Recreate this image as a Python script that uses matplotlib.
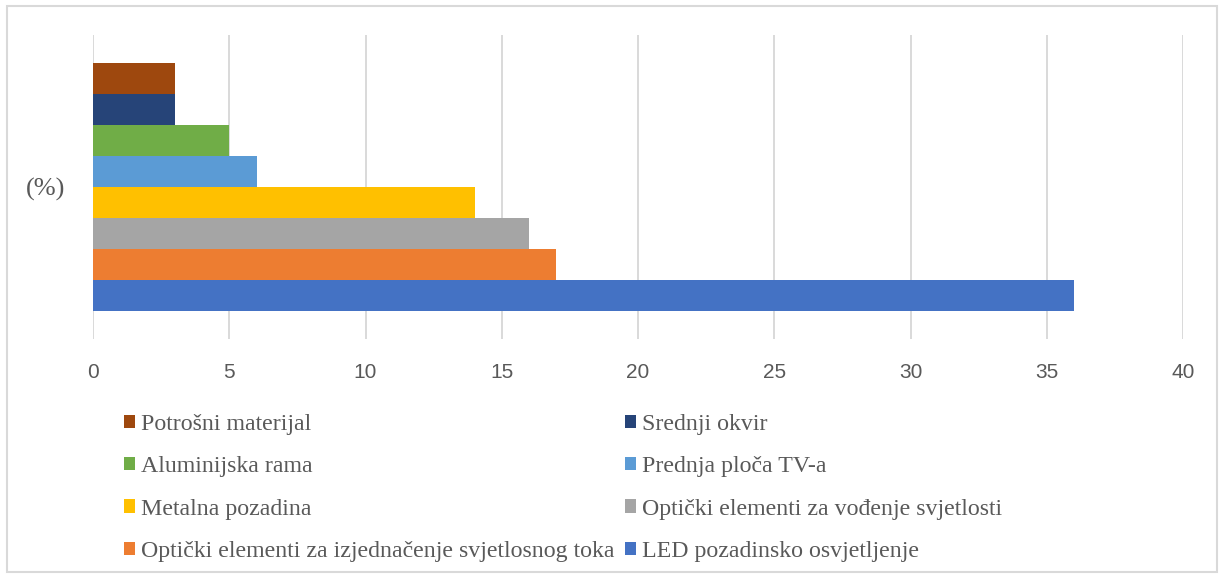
import numpy as np
import matplotlib
matplotlib.use("Agg")
import matplotlib.pyplot as plt
from matplotlib.patches import Patch, Rectangle

# data (bottom bar first)
series = [
    "LED pozadinsko osvjetljenje",
    "Optički elementi za izjednačenje svjetlosnog toka",
    "Optički elementi za vođenje svjetlosti",
    "Metalna pozadina",
    "Prednja ploča TV-a",
    "Aluminijska rama",
    "Srednji okvir",
    "Potrošni materijal",
]
values = [36, 17, 16, 14, 6, 5, 3, 3]
colors = ["#4472C4", "#ED7D31", "#A5A5A5", "#FFC000",
          "#5B9BD5", "#70AD47", "#264478", "#9E480E"]
category = "(%)"
x_ticks = [0, 5, 10, 15, 20, 25, 30, 35, 40]

text_col = "#595959"
grid_col = "#D9D9D9"

fig = plt.figure(figsize=(12.23, 5.77), dpi=100)
ax = fig.add_axes([93 / 1223, 1 - 339 / 577, 1090 / 1223, 304 / 577])

n = len(series)
group = 0.816
h = group / n
for i in range(n):
    yc = -group / 2 + h * (i + 0.5)
    ax.barh(yc, values[i], height=h, color=colors[i], label=series[i], zorder=3)

ax.set_xlim(0, 40)
ax.set_ylim(-0.5, 0.5)
ax.set_xticks(x_ticks)
ax.set_xticklabels([str(t) for t in x_ticks], family="Liberation Sans",
                   fontsize=15, color=text_col)
ax.set_yticks([0])
ax.set_yticklabels([category], family="Liberation Serif", fontsize=19, color=text_col)
ax.tick_params(axis="x", length=0, pad=17.5)
ax.tick_params(axis="y", length=0, pad=20)
ax.xaxis.grid(True, color=grid_col, linewidth=1.4, zorder=0)
for s in ax.spines.values():
    s.set_visible(False)

# legend: Excel order, two columns (row-major like the picture)
order = list(range(n))[::-1]
row_major = [order[k] for k in (0, 2, 4, 6, 1, 3, 5, 7)]
handles = [Patch(facecolor=colors[k], edgecolor="none") for k in row_major]
labels = [series[k] for k in row_major]
fig.legend(handles, labels, ncol=2, loc="upper left",
           bbox_to_anchor=(124 / 1223, 1 - 414 / 577),
           frameon=False, prop={"family": "Liberation Serif", "size": 17.2},
           labelcolor=text_col, handlelength=0.48, handleheight=0.48,
           handletextpad=0.25, columnspacing=0.42, labelspacing=0.89,
           borderaxespad=0, borderpad=0)

# outer border
fig.patches.append(Rectangle((7 / 1223, 5 / 577), 1210 / 1223, 566 / 577,
                             transform=fig.transFigure, fill=False,
                             edgecolor=grid_col, linewidth=1.5))

fig.savefig("out.png", dpi=100)
